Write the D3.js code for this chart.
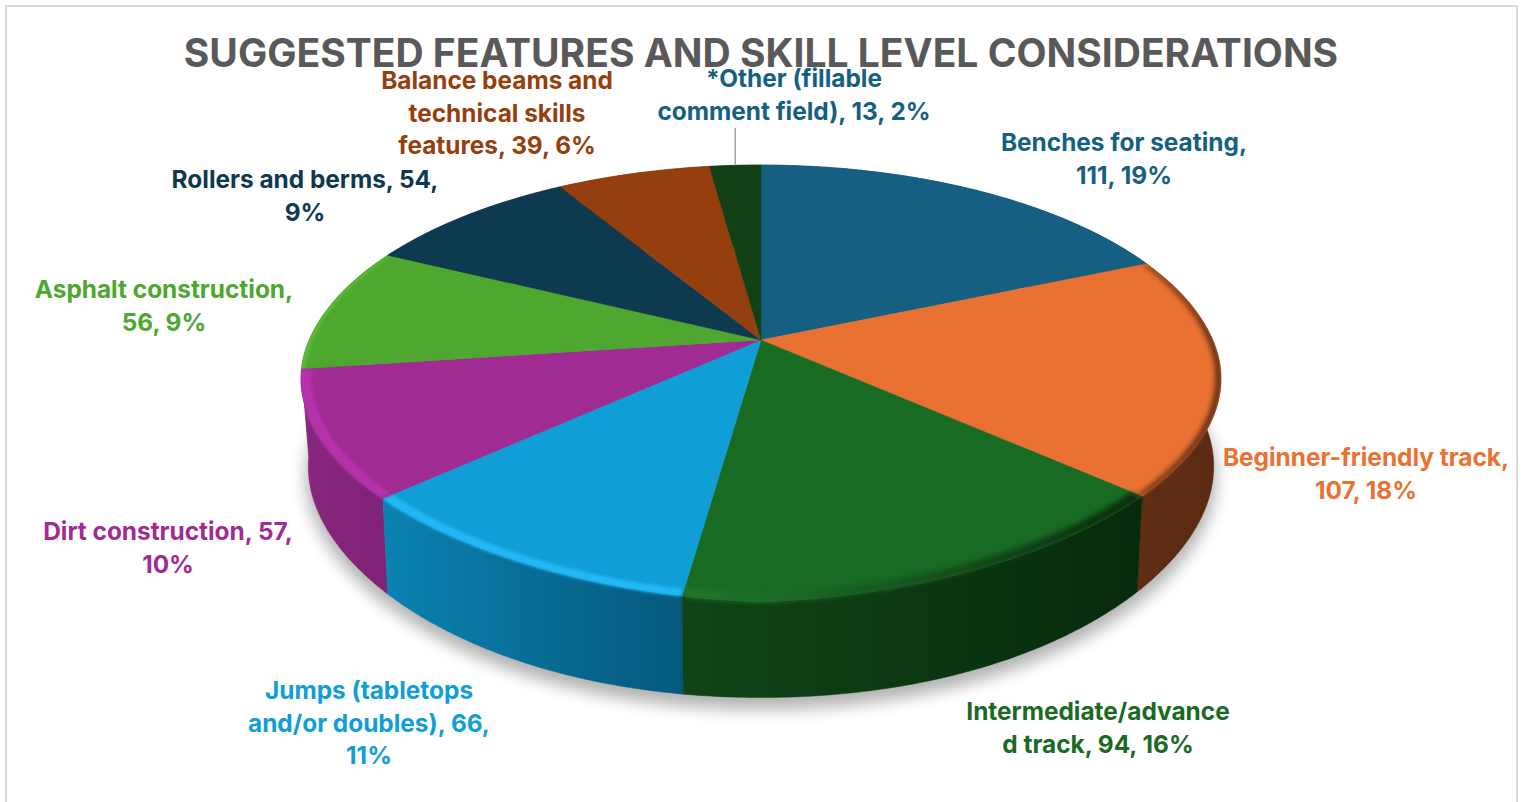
<!DOCTYPE html>
<html>
<head>
<meta charset="utf-8">
<script src="https://cdn.jsdelivr.net/npm/d3@7"></script>
<style>
  html, body { margin: 0; padding: 0; background: #fff; overflow: hidden; }
  svg { display: block; }
  text { font-family: Inter, "Noto Sans", sans-serif; text-anchor: middle; }
</style>
</head>
<body>
<svg id="chart" width="1525" height="802"></svg>
<script>
// Survey responses per suggested feature
const categories = ["Benches for seating", "Beginner-friendly track", "Intermediate/advanced track",
  "Jumps (tabletops and/or doubles)", "Dirt construction", "Asphalt construction",
  "Rollers and berms", "Balance beams and technical skills features", "*Other (fillable comment field)"];
const values = [111, 107, 94, 66, 57, 56, 54, 39, 13];

// Wrapped data labels, one entry per slice
const labelLines = [
  ["Benches for seating,", "111, 19%"],
  ["Beginner-friendly track,", "107, 18%"],
  ["Intermediate/advance", "d track, 94, 16%"],
  ["Jumps (tabletops", "and/or doubles), 66,", "11%"],
  ["Dirt construction, 57,", "10%"],
  ["Asphalt construction,", "56, 9%"],
  ["Rollers and berms, 54,", "9%"],
  ["Balance beams and", "technical skills", "features, 39, 6%"],
  ["*Other (fillable", "comment field), 13, 2%"]
];
const labelX = [1124, 1366, 1098, 369, 168, 164, 305, 497, 794];
const labelTopY = [143, 458, 712, 691, 532, 290, 180, 81, 79];

// Slice palette: top face, label text, wall gradient ends, bevel gradient ends
const topColors = ["#156082", "#E97132", "#196B24", "#0F9ED5", "#A02B93", "#4EA72E", "#0E3A50", "#963F0E", "#124116"];
const labelColors = ["#156082", "#E97132", "#196B24", "#0F9ED5", "#A02B93", "#4EA72E", "#0E3A50", "#963F0E", "#156082"];
const wallLeft = ["#0d3f56", "#5e2d14", "#0f4516", "#0b82b2", "#88267d", "#3f8a26", "#0a2a3a", "#6b2e0a", "#0c2d10"];
const wallRight = ["#0d3f56", "#5a2a12", "#082a0c", "#04587c", "#7f2376", "#3f8a26", "#0a2a3a", "#6b2e0a", "#0c2d10"];
const bevelLeft = [null, "#7a3a18", "#22792c", "#22b8f5", "#b530aa", "#5fbd3a", null, null, null];
const bevelRight = [null, "#5e2d14", "#082a0c", "#22b8f5", "#b530aa", "#5fbd3a", null, null, null];
const bevelWidth = [0, 0.012, 0.024, 0.022, 0.022, 0.008, 0, 0, 0];
const bevelSoft = [false, true, true, false, false, false, false, false, false];

const titleText = "SUGGESTED FEATURES AND SKILL LEVEL CONSIDERATIONS";
const leaderIndex = 8;

const svg = d3.select("#chart");
const defs = svg.append("defs");

// Perspective strength of the tilted disc
const persp = 0.199;
const xTop = d3.scaleLinear().domain([-1, 1]).range([761 - 451.8, 761 + 451.8]);
const yTop = d3.scaleLinear().domain([-1, 1]).range([340 - 209.8, 340 + 209.8]);
const xBase = d3.scaleLinear().domain([-1, 1]).range([761 - 444.6, 761 + 444.6]);
const yBase = d3.scaleLinear().domain([-1, 1]).range([426 - 217.5, 426 + 217.5]);

// Angle (clockwise from 12 o'clock) and radius fraction to a screen point.
// The front corners of the bevelled disc sit slightly inside a true circle.
function project(angle, r, xs, ys, yShoulder = 1) {
  const su = Math.sin(angle), sv = -Math.cos(angle);
  const shoulder = sv > 0 ? 0.06 * sv * sv * Math.abs(su) : 0;
  const u = r * su * (1 - shoulder), v = r * sv * (1 - shoulder * yShoulder);
  const w = 1 - persp * v;
  return [xs(u / w), ys(v / w)];
}
const pathOf = d3.line();
const arcAngles = (a0, a1) => {
  const n = Math.max(4, Math.ceil((a1 - a0) / 0.01));
  return d3.range(n + 1).map(i => a0 + (a1 - a0) * i / n);
};

const pie = d3.pie().sort(null).value(d => d);
const slices = pie(values);
slices.forEach((s, i) => { s.i = i; });

const wallPath = s => {
  const as = arcAngles(s.startAngle, s.endAngle);
  return pathOf(as.map(a => project(a, 1, xTop, yTop))
    .concat(as.slice().reverse().map(a => project(a, 1, xBase, yBase, 0)))) + "Z";
};
const fullTurn = arcAngles(0, 2 * Math.PI);

defs.append("filter").attr("id", "shadowBlur")
  .attr("x", "-10%").attr("y", "-10%").attr("width", "120%").attr("height", "130%")
  .append("feGaussianBlur").attr("stdDeviation", 8);
defs.append("filter").attr("id", "bevelBlur")
  .attr("x", "-5%").attr("y", "-5%").attr("width", "110%").attr("height", "110%")
  .append("feGaussianBlur").attr("stdDeviation", 1.4);
defs.append("filter").attr("id", "bevelBlurSoft")
  .attr("x", "-5%").attr("y", "-5%").attr("width", "110%").attr("height", "110%")
  .append("feGaussianBlur").attr("stdDeviation", 2.4);

// Everything on the disc is kept inside its silhouette
const outline = defs.append("clipPath").attr("id", "discOutline");
outline.append("path").attr("d", pathOf(fullTurn.map(a => project(a, 1, xTop, yTop))) + "Z");
outline.selectAll("path.wall").data(slices).join("path").attr("class", "wall").attr("d", wallPath);

function hGradient(id, s, c0, c1) {
  const xs = arcAngles(s.startAngle, s.endAngle).map(a => project(a, 1, xTop, yTop)[0]);
  const g = defs.append("linearGradient").attr("id", id)
    .attr("gradientUnits", "userSpaceOnUse")
    .attr("x1", d3.min(xs)).attr("x2", d3.max(xs)).attr("y1", 0).attr("y2", 0);
  g.append("stop").attr("offset", 0).attr("stop-color", c0);
  g.append("stop").attr("offset", 1).attr("stop-color", c1);
}

// Chart frame
svg.append("rect").attr("x", 6).attr("y", 6).attr("width", 1511).attr("height", 820)
  .attr("fill", "#fff").attr("stroke", "#d9d9d9").attr("stroke-width", 2);

// Soft cast shadow under the disc
svg.append("path")
  .attr("d", pathOf(fullTurn.map(a => project(a, 1.005, xBase, yBase, 0))) + "Z")
  .attr("transform", "translate(0,10)")
  .attr("fill", "#000").attr("opacity", 0.3).attr("filter", "url(#shadowBlur)");

// Outer walls, painted back to front
slices.forEach(s => hGradient("wall" + s.i, s, wallLeft[s.i], wallRight[s.i]));
const backToFront = slices.slice().sort((a, b) =>
  Math.cos((b.startAngle + b.endAngle) / 2) - Math.cos((a.startAngle + a.endAngle) / 2));
svg.append("g").selectAll("path").data(backToFront).join("path")
  .attr("d", wallPath)
  .attr("fill", s => `url(#wall${s.i})`)
  .attr("stroke", s => `url(#wall${s.i})`).attr("stroke-width", 0.5);

// Top face
svg.append("g").selectAll("path").data(slices).join("path")
  .attr("d", s => {
    const as = arcAngles(s.startAngle, s.endAngle);
    return pathOf([project(0, 0, xTop, yTop)].concat(as.map(a => project(a, 1, xTop, yTop)))) + "Z";
  })
  .attr("fill", s => topColors[s.i])
  .attr("stroke", s => topColors[s.i]).attr("stroke-width", 0.4);

// Bevelled rim where the top face rolls over into the wall
const beveled = slices.filter(s => bevelLeft[s.i]);
beveled.forEach(s => hGradient("bevel" + s.i, s, bevelLeft[s.i], bevelRight[s.i]));
const rimLayer = svg.append("g").attr("clip-path", "url(#discOutline)");
rimLayer.selectAll("path").data(beveled).join("path")
  .attr("d", s => {
    const as = arcAngles(s.startAngle + 0.004, s.endAngle - 0.004);
    return pathOf(as.map(a => project(a, 1.002, xTop, yTop))
      .concat(as.slice().reverse().map(a => project(a, 1 - bevelWidth[s.i], xTop, yTop)))) + "Z";
  })
  .attr("fill", s => `url(#bevel${s.i})`)
  .attr("filter", s => bevelSoft[s.i] ? "url(#bevelBlurSoft)" : "url(#bevelBlur)");

// Title
svg.append("text").attr("x", 761).attr("y", 66.5)
  .attr("font-size", 39).attr("font-weight", 700).attr("fill", "#595959")
  .text(titleText);

// Leader line for the narrow slice
const leaderMid = (slices[leaderIndex].startAngle + slices[leaderIndex].endAngle) / 2;
const leaderEnd = project(leaderMid, 1, xTop, yTop);
svg.append("line")
  .attr("x1", leaderEnd[0]).attr("x2", leaderEnd[0])
  .attr("y1", 128).attr("y2", leaderEnd[1])
  .attr("stroke", "#a6a6a6").attr("stroke-width", 1.5);

// Data labels
const lineStep = 32.5;
const labels = svg.append("g").selectAll("text").data(labelLines).join("text")
  .attr("font-size", 24.4).attr("font-weight", 700)
  .attr("fill", (d, i) => labelColors[i]);
labels.selectAll("tspan").data((d, i) => d.map((t, k) => ({ t, k, i }))).join("tspan")
  .attr("x", d => labelX[d.i])
  .attr("y", d => labelTopY[d.i] + 8.2 + d.k * lineStep)
  .text(d => d.t);
</script>
</body>
</html>
